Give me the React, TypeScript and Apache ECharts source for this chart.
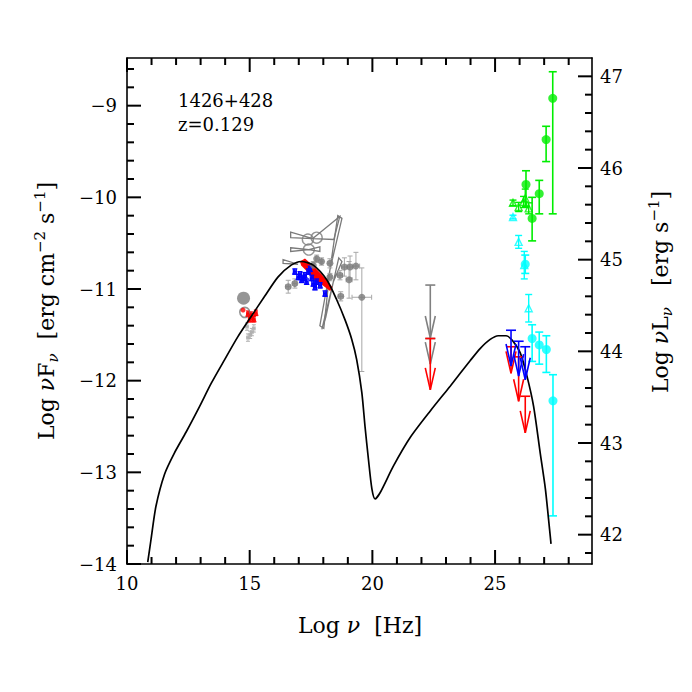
import React, { useEffect, useRef } from 'react';
import * as echarts from 'echarts';

// ---------- axes / ticks ----------
const X_MIN = 10;
const X_MAX = 28.95;
const Y_MIN = -14;
const Y_MAX = -8.48;
const L_OFFSET = 55.68; // log nuL = log nuF + offset
const X_MAJOR = [10, 15, 20, 25];
const Y_MAJOR = [-14, -13, -12, -11, -10, -9];
const R_MAJOR = [42, 43, 44, 45, 46, 47];

// ---------- model curve ----------
const MODEL_NU = [10.845, 10.98, 11.18, 11.53, 11.93, 12.41, 12.96, 13.43, 13.98, 14.52, 15.06, 15.61, 16.15, 16.69, 17.1, 17.59, 18.14, 18.55, 18.89, 19.16, 19.36, 19.57, 19.7, 19.84, 19.98, 20.11, 20.32, 20.86, 21.54, 22.36, 23.17, 23.99, 24.39, 24.8, 25.13, 25.45, 25.7, 26.03, 26.3, 26.57, 26.84, 27.05, 27.22, 27.28];
const MODEL_F = [-13.98, -13.73, -13.37, -13.02, -12.79, -12.56, -12.28, -12.03, -11.77, -11.52, -11.3, -11.08, -10.87, -10.74, -10.7, -10.74, -10.9, -11.12, -11.34, -11.55, -11.77, -12.13, -12.5, -12.86, -13.18, -13.29, -13.22, -12.93, -12.62, -12.33, -12.06, -11.78, -11.65, -11.55, -11.51, -11.51, -11.56, -11.7, -11.95, -12.28, -12.79, -13.18, -13.62, -13.78];

// ---------- optical ----------
const OPT_BIG_GRAY = [[14.75, -11.1]];
const OPT_OPEN_GRAY = [[14.8, -11.255]];
const OPT_RED_DOT = [[14.73, -11.23]];
// [logNu, logF, dNu, dFlow, dFhigh]
const OPT_RED = [[14.93, -11.27, 0.05, 0.03, 0.03], [15.09, -11.3, 0.05, 0.03, 0.03], [15.25, -11.26, 0.05, 0.03, 0.03], [15.0, -11.33, 0.05, 0.03, 0.03], [15.17, -11.33, 0.05, 0.03, 0.03], [15.05, -11.28, 0.05, 0.03, 0.03]];
const OPT_LIGHT = [[14.89, -11.41, 0.05, 0.04, 0.04], [15.09, -11.47, 0.05, 0.04, 0.04], [14.93, -11.53, 0.05, 0.04, 0.04], [15.17, -11.43, 0.05, 0.04, 0.04], [15.02, -11.5, 0.05, 0.04, 0.04]];

// ---------- X-ray ----------
const XR_GRAY = [[16.57, -10.975, 0.1, 0.07, 0.07], [16.84, -10.94, 0.08, 0.05, 0.05], [17.59, -10.74, 0.05, 0.04, 0.04], [17.73, -10.67, 0.05, 0.04, 0.04], [17.93, -10.7, 0.05, 0.04, 0.04], [18.27, -10.72, 0.08, 0.05, 0.05], [18.27, -10.87, 0.08, 0.04, 0.04], [18.68, -10.85, 0.1, 0.05, 0.05], [18.86, -10.76, 0.12, 0.1, 0.1], [19.09, -10.76, 0.12, 0.12, 0.12], [19.33, -10.75, 0.15, 0.15, 0.15], [19.05, -10.9, 0.12, 0.2, 0.2], [18.71, -11.08, 0.1, 0.05, 0.05], [19.57, -11.09, 0.4, 0.81, 0.32]];
const XR_BLUE = [[16.84, -10.81, 0.06, 0.03, 0.03], [16.98, -10.87, 0.06, 0.03, 0.03], [17.12, -10.9, 0.06, 0.03, 0.03], [17.25, -10.85, 0.06, 0.03, 0.03], [17.39, -10.81, 0.06, 0.03, 0.03], [17.32, -10.92, 0.06, 0.03, 0.03], [17.53, -10.88, 0.06, 0.03, 0.03], [17.59, -10.94, 0.06, 0.03, 0.03], [17.73, -10.92, 0.06, 0.03, 0.03], [17.87, -10.96, 0.06, 0.03, 0.03], [17.66, -10.98, 0.06, 0.03, 0.03], [18.07, -11.05, 0.06, 0.03, 0.03], [17.46, -10.78, 0.06, 0.03, 0.03], [17.05, -10.84, 0.06, 0.03, 0.03], [17.2, -10.88, 0.06, 0.03, 0.03]];
const XR_RED_BAND = [[[17.08, -10.703], [17.25, -10.677], [17.59, -10.758], [17.93, -10.848], [18.34, -10.982], [18.27, -11.011], [18.0, -10.957], [17.66, -10.902], [17.39, -10.812], [17.12, -10.739]]];
const XR_BOWTIES = [
  [[16.67, -10.38], [17.57, -10.45], [18.67, -10.21], [18.43, -10.46], [17.57, -10.45], [16.67, -10.44]],
  [[16.67, -10.55], [17.41, -10.57], [17.86, -10.54], [17.86, -10.59], [17.41, -10.57], [16.67, -10.59]],
  [[18.59, -10.2], [18.76, -10.23], [18.27, -10.79], [18.02, -11.43], [17.86, -11.4], [18.27, -10.79]],
  [[18.63, -10.66], [18.76, -10.7], [18.41, -10.92], [17.94, -11.44], [18.1, -11.31], [18.41, -10.92]],
  [[16.36, -10.68], [16.97, -10.73], [16.36, -10.72]],
];
const XR_OPEN_CIRCLES = [[17.37, -10.46], [17.73, -10.44], [17.41, -10.57]];

// ---------- gamma-ray ----------
const G_GREEN_CIRC = [[27.35, -8.92, 0, 1.26, 0.29], [27.08, -9.37, 0, 0.24, 0.145], [26.26, -9.86, 0, 0.24, 0.15], [26.8, -9.96, 0, 0.22, 0.145], [26.51, -10.23, 0, 0.245, 0.23]];
const G_GREEN_TRI = [[25.73, -10.06, 0, 0.03, 0.03], [25.96, -10.105, 0, 0.05, 0.05], [26.16, -10.05, 0, 0.06, 0.06], [26.23, -10.01, 0, 0.1, 0.1], [26.37, -10.12, 0, 0.06, 0.06]];
const G_CYAN_CIRC = [[26.23, -10.73, 0, 0.1, 0.1], [26.51, -11.54, 0, 0.25, 0.15], [26.8, -11.61, 0, 0.21, 0.14], [27.09, -11.66, 0, 0.25, 0.15], [27.36, -12.22, 0, 1.255, 0.285]];
const G_CYAN_TRI = [[25.73, -10.215, 0, 0.02, 0.02], [25.96, -10.486, 0, 0.07, 0.07], [26.19, -10.74, 0, 0.15, 0.15], [26.37, -11.21, 0, 0.15, 0.15]];

// upper limits: [logNu, logF top, logF tip]
const UL_GRAY = [[22.36, -10.957, -11.535], [22.36, -11.54, -11.82]];
const UL_RED = [[22.36, -11.54, -12.1], [25.65, -11.63, -11.92], [25.96, -11.74, -12.225], [26.23, -12.17, -12.57]];
const UL_BLUE = [[25.65, -11.45, -11.84], [25.96, -11.57, -11.95], [26.23, -11.63, -11.99]];

const SERIF = 'DejaVu Serif';

function minorList(a: number, b: number, step: number, majors: number[]) {
  const out: number[] = [];
  for (let v = a; v <= b + 1e-9; v += step) {
    const r = Math.round(v * 10) / 10;
    if (!majors.some((m) => Math.abs(m - r) < 1e-6)) out.push(r);
  }
  return out;
}

const fmt = (v: number) => (v < 0 ? '\u2212' + Math.abs(v) : String(v));

function axis(min: number, max: number, pos: string, labels: number[] | null, margin = 10) {
  return {
    type: 'value',
    gridIndex: 0,
    min,
    max,
    position: pos,
    axisLine: { show: true, onZero: false, lineStyle: { color: '#000', width: 1.6 } },
    axisTick: { show: false },
    axisLabel: labels
      ? { show: true, customValues: labels, formatter: fmt, fontFamily: SERIF, fontSize: 18, color: '#000', margin }
      : { show: false },
    splitLine: { show: false },
    minorTick: { show: false },
  };
}

// tick marks drawn through the axis scale: data item = [value, side(0 bottom,1 top,2 left,3 right), length]
function tickRender(params: any, api: any) {
  const v = api.value(0), side = api.value(1), len = api.value(2);
  let x1, y1, x2, y2;
  if (side === 0) { const p = api.coord([v, Y_MIN]); x1 = p[0]; y1 = p[1]; x2 = p[0]; y2 = p[1] - len; }
  else if (side === 1) { const p = api.coord([v, Y_MAX]); x1 = p[0]; y1 = p[1]; x2 = p[0]; y2 = p[1] + len; }
  else if (side === 2) { const p = api.coord([X_MIN, v]); x1 = p[0]; y1 = p[1]; x2 = p[0] + len; y2 = p[1]; }
  else { const p = api.coord([X_MAX, v - L_OFFSET]); x1 = p[0]; y1 = p[1]; x2 = p[0] - len; y2 = p[1]; }
  return { type: 'line', shape: { x1, y1, x2, y2 }, style: { stroke: '#000', lineWidth: 2 } };
}

function errRender(color: string, cap: number, lw: number) {
  return (params: any, api: any) => {
    const x = api.value(0), y = api.value(1), dx = api.value(2), dl = api.value(3), dh = api.value(4);
    const ch: any[] = [];
    const st = { stroke: color, lineWidth: lw };
    const lo = api.coord([x, y - dl]);
    const hi = api.coord([x, y + dh]);
    if (dl > 0 || dh > 0) {
      ch.push({ type: 'line', shape: { x1: lo[0], y1: lo[1], x2: hi[0], y2: hi[1] }, style: st });
      ch.push({ type: 'line', shape: { x1: lo[0] - cap, y1: lo[1], x2: lo[0] + cap, y2: lo[1] }, style: st });
      ch.push({ type: 'line', shape: { x1: hi[0] - cap, y1: hi[1], x2: hi[0] + cap, y2: hi[1] }, style: st });
    }
    if (dx > 0) {
      const l = api.coord([x - dx, y]);
      const r = api.coord([x + dx, y]);
      ch.push({ type: 'line', shape: { x1: l[0], y1: l[1], x2: r[0], y2: r[1] }, style: st });
      ch.push({ type: 'line', shape: { x1: l[0], y1: l[1] - cap, x2: l[0], y2: l[1] + cap }, style: st });
      ch.push({ type: 'line', shape: { x1: r[0], y1: r[1] - cap, x2: r[0], y2: r[1] + cap }, style: st });
    }
    return { type: 'group', children: ch };
  };
}

function ulRender(color: string) {
  return (params: any, api: any) => {
    const top = api.coord([api.value(0), api.value(1)]);
    const tip = api.coord([api.value(0), api.value(2)]);
    const st = { stroke: color, lineWidth: 1.6, fill: 'none' };
    return {
      type: 'group',
      children: [
        { type: 'line', shape: { x1: top[0] - 5, y1: top[1], x2: top[0] + 5, y2: top[1] }, style: st },
        { type: 'line', shape: { x1: top[0], y1: top[1], x2: tip[0], y2: tip[1] }, style: st },
        { type: 'polyline', shape: { points: [[tip[0] - 5, tip[1] - 22], [tip[0], tip[1]], [tip[0] + 5, tip[1] - 22]] }, style: st },
      ],
    };
  };
}

function polyRender(polys: number[][][], stroke: string, fill: string) {
  return (params: any, api: any) => {
    const pts = polys[params.dataIndex].map((p) => api.coord(p));
    return { type: 'polygon', shape: { points: pts }, style: { stroke, fill, lineWidth: 1.3 } };
  };
}

const custom = (data: any[], renderItem: any, z = 2) => ({
  type: 'custom',
  coordinateSystem: 'cartesian2d',
  xAxisIndex: 0,
  yAxisIndex: 0,
  data,
  renderItem,
  z,
  clip: false,
  silent: true,
});

const scatter = (data: any[], symbol: string, size: number, color: string, border?: string, bw = 1.4) => ({
  type: 'scatter',
  xAxisIndex: 0,
  yAxisIndex: 0,
  data: data.map((d) => [d[0], d[1]]),
  symbol,
  symbolSize: size,
  itemStyle: border ? { color: 'rgba(0,0,0,0)', borderColor: border, borderWidth: bw } : { color },
  silent: true,
  z: 3,
});

export default function App() {
  const ref = useRef<HTMLDivElement>(null);
  useEffect(() => {
    const chart = echarts.init(ref.current!, null, { renderer: 'svg' });
    const xMinor = minorList(11, 28, 1, X_MAJOR);
    const yMinor = minorList(-13.8, -8.6, 0.2, Y_MAJOR);
    const rMinor = minorList(41.8, 47.2, 0.2, R_MAJOR);
    const ticks: number[][] = [];
    X_MAJOR.forEach((v) => { ticks.push([v, 0, 14]); ticks.push([v, 1, 14]); });
    xMinor.forEach((v) => { ticks.push([v, 0, 7]); ticks.push([v, 1, 7]); });
    Y_MAJOR.forEach((v) => ticks.push([v, 2, 14]));
    yMinor.forEach((v) => ticks.push([v, 2, 7]));
    R_MAJOR.forEach((v) => ticks.push([v, 3, 14]));
    rMinor.filter((v) => v - L_OFFSET < Y_MAX).forEach((v) => ticks.push([v, 3, 7]));

    const rMin = Y_MIN + L_OFFSET;
    const rMax = Y_MAX + L_OFFSET;
    const base = { fontFamily: SERIF, fontSize: 22, lineHeight: 28, color: '#000' };
    const rich = {
      n: base,
      it: { ...base, fontStyle: 'italic' },
      sub: { fontFamily: SERIF, fontSize: 15, lineHeight: 14, verticalAlign: 'bottom', fontStyle: 'italic', color: '#000' },
      sup: { fontFamily: SERIF, fontSize: 15, lineHeight: 14, verticalAlign: 'top', color: '#000' },
    };
    const option: any = {
      animation: false,
      backgroundColor: '#fff',
      grid: { left: 127, right: 100, top: 58, bottom: 128, containLabel: false },
      xAxis: [
        axis(X_MIN, X_MAX, 'bottom', X_MAJOR, 10),
        axis(X_MIN, X_MAX, 'top', null),
      ],
      yAxis: [
        axis(Y_MIN, Y_MAX, 'left', Y_MAJOR, 10),
        axis(rMin, rMax, 'right', R_MAJOR, 8),
      ],
      graphic: [
        { type: 'text', x: 178, y: 100, style: { text: '1426+428', fontFamily: SERIF, fontSize: 18, fill: '#000', align: 'left', verticalAlign: 'middle' } },
        { type: 'text', x: 178, y: 124, style: { text: 'z=0.129', fontFamily: SERIF, fontSize: 18, fill: '#000', align: 'left', verticalAlign: 'middle' } },
        { type: 'text', x: 360, y: 625, style: { text: '{n|Log }{it|ν}{n|  [Hz]}', rich, align: 'center', verticalAlign: 'middle' } },
        { type: 'text', x: 46, y: 311, rotation: Math.PI / 2, style: { text: '{n|Log }{it|ν}{n|F}{sub|ν}{n|  [erg cm}{sup|−2}{n| s}{sup|−1}{n|]}', rich, align: 'center', verticalAlign: 'middle' } },
        { type: 'text', x: 660, y: 292, rotation: Math.PI / 2, style: { text: '{n|Log }{it|ν}{n|L}{sub|ν}{n|   [erg s}{sup|−1}{n|]}', rich, align: 'center', verticalAlign: 'middle' } },
      ],
      series: [
        custom(ticks, tickRender, 6),
        custom(XR_BOWTIES.map((p) => p[0]), polyRender(XR_BOWTIES, '#7a7a7a', 'none')),
        custom(XR_GRAY, errRender('#a8a8a8', 2.5, 1)),
        scatter(XR_GRAY, 'circle', 7, '#7a7a7a'),
        scatter(XR_OPEN_CIRCLES, 'circle', 11, '', '#7a7a7a', 1.4),
        custom(OPT_LIGHT, errRender('#b0b0b0', 2, 1)),
        scatter(OPT_LIGHT, 'circle', 3, '#b0b0b0'),
        scatter(OPT_BIG_GRAY, 'circle', 13, '#7a7a7a'),
        scatter(OPT_OPEN_GRAY, 'circle', 10, '', '#7a7a7a', 1.6),
        scatter(OPT_RED_DOT, 'circle', 5, '#ff0000'),
        custom(OPT_RED, errRender('#ff0000', 2, 1.2)),
        scatter(OPT_RED, 'triangle', 6, '#ff0000'),
        custom(XR_RED_BAND.map((p) => p[0]), polyRender(XR_RED_BAND, '#ff0000', '#ff0000')),
        custom(XR_BLUE, errRender('#0000ff', 2.5, 1.2)),
        scatter(XR_BLUE, 'triangle', 6, '#0000ff'),
        {
          type: 'line',
          xAxisIndex: 0,
          yAxisIndex: 0,
          data: MODEL_NU.map((v, i) => [v, MODEL_F[i]]),
          showSymbol: false,
          symbol: 'none',
          smooth: 0.25,
          lineStyle: { color: '#000', width: 1.7 },
          silent: true,
          z: 4,
        },
        custom(G_GREEN_CIRC, errRender('#00ee00', 4, 1.6)),
        scatter(G_GREEN_CIRC, 'circle', 9, '#00ee00'),
        custom(G_GREEN_TRI, errRender('#00ee00', 3.5, 1.4)),
        scatter(G_GREEN_TRI, 'triangle', 7, '', '#00ee00', 1.4),
        custom(G_CYAN_CIRC, errRender('#00ffff', 4, 1.6)),
        scatter(G_CYAN_CIRC, 'circle', 9, '#00ffff'),
        custom(G_CYAN_TRI, errRender('#00ffff', 3.5, 1.4)),
        scatter(G_CYAN_TRI, 'triangle', 7, '', '#00ffff', 1.4),
        custom(UL_GRAY, ulRender('#808080'), 5),
        custom(UL_RED, ulRender('#ff0000'), 5),
        custom(UL_BLUE, ulRender('#0000ff'), 5),
      ],
    };
    chart.setOption(option);
    return () => chart.dispose();
  }, []);
  return <div ref={ref} style={{ position: 'fixed', left: 0, top: 0, width: 692, height: 692, background: '#fff' }} />;
}
